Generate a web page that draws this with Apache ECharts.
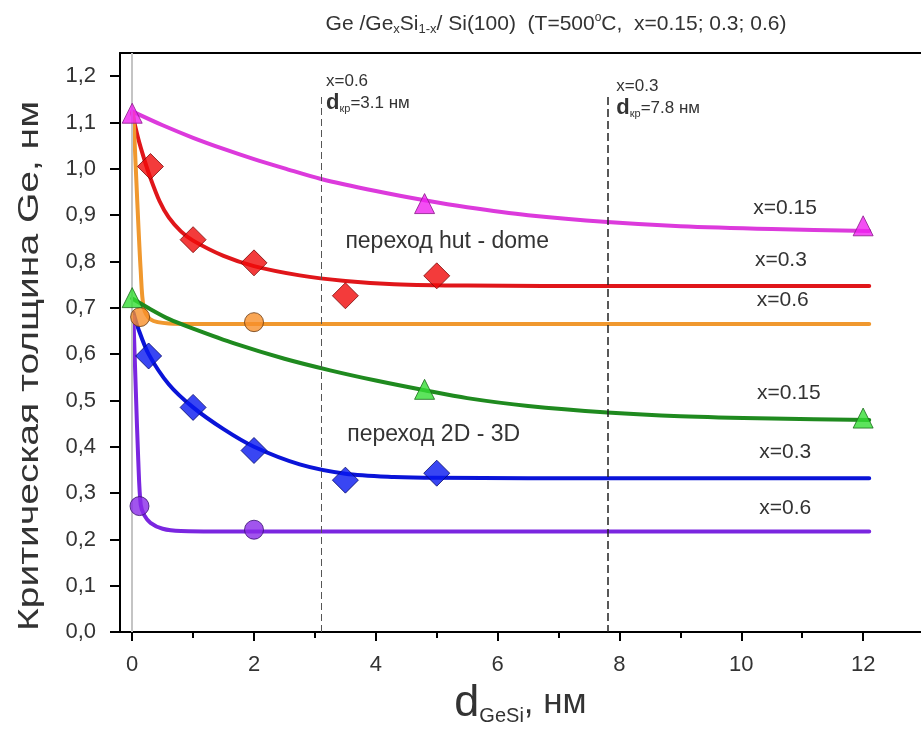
<!DOCTYPE html>
<html>
<head>
<meta charset="utf-8">
<script src="https://cdn.jsdelivr.net/npm/echarts@6/dist/echarts.min.js"></script>
<style>
html,body{margin:0;padding:0;background:#fff}
#chart{width:921px;height:731px}
</style>
</head>
<body>
<div id="chart"></div>
<script>
// Axis ticks
const xTicks = [0, 2, 4, 6, 8, 10, 12];
const xMinorTicks = [1, 3, 5, 7, 9, 11];
const yTicks = [0, 0.1, 0.2, 0.3, 0.4, 0.5, 0.6, 0.7, 0.8, 0.9, 1.0, 1.1, 1.2];

// Critical thickness of GeSi layer where islands appear (nm)
const dCrit = [3.1, 7.8];
const dCritTop = 1.155;

// hut -> dome transition: fitted curves [d_GeSi, h_Ge]
const fitHut015 = [[0,1.124],[0.5,1.094],[1,1.067],[1.5,1.043],[2,1.021],[2.5,1.001],[3.1,0.978],[4,0.952],[4.8,0.932],[5.5,0.917],[6.5,0.9],[7.8,0.885],[9,0.876],[10.5,0.87],[12.1,0.866]];
const fitHut03  = [[0,1.12],[0.1,1.065],[0.2,1.02],[0.3,0.98],[0.45,0.93],[0.6,0.895],[0.8,0.865],[1,0.845],[1.5,0.812],[2,0.79],[2.75,0.77],[3.5,0.758],[4.3,0.751],[5.5,0.748],[8,0.747],[12.1,0.747]];
const fitHut06  = [[0.02,1.12],[0.08,0.94],[0.14,0.78],[0.19,0.70],[0.3,0.675],[0.6,0.666],[1,0.665],[12.1,0.665]];
// 2D -> 3D transition: fitted curves
const fit2D015 = [[0,0.72],[0.3,0.697],[0.6,0.676],[1,0.655],[1.7,0.622],[2.5,0.59],[3.25,0.565],[4,0.543],[4.8,0.522],[5.5,0.505],[6.5,0.488],[7.8,0.474],[9,0.466],[10.5,0.461],[12.1,0.458]];
const fit2D03  = [[0.02,0.69],[0.1,0.655],[0.27,0.6],[0.6,0.535],[1,0.485],[1.5,0.438],[2,0.4],[2.75,0.362],[3.5,0.342],[4.3,0.335],[5,0.333],[8,0.332],[12.1,0.332]];
const fit2D06  = [[0.02,0.68],[0.06,0.52],[0.1,0.37],[0.14,0.275],[0.2,0.252],[0.3,0.236],[0.5,0.223],[0.8,0.218],[1.5,0.217],[12.1,0.217]];

// measured points
const ptsHut015 = [[0,1.12],[4.8,0.925],[12,0.877]];
const ptsHut03  = [[0.3,1.005],[1,0.847],[2,0.797],[3.5,0.726],[5,0.769]];
const ptsHut06  = [[0.13,0.68],[2,0.669]];
const pts2D015  = [[0,0.722],[4.8,0.524],[12,0.462]];
const pts2D03   = [[0.27,0.596],[1,0.485],[2,0.392],[3.5,0.328],[5,0.343]];
const pts2D06   = [[0.12,0.272],[2,0.221]];

// curve labels: [d, h, text]
const curveLabels = [
  [10.72, 0.915, 'x=0.15'],
  [10.65, 0.803, 'x=0.3'],
  [10.68, 0.716, 'x=0.6'],
  [10.78, 0.516, 'x=0.15'],
  [10.72, 0.388, 'x=0.3'],
  [10.72, 0.268, 'x=0.6']
];
const regionLabels = [
  [3.5, 0.843, 'переход hut - dome'],
  [3.53, 0.426, 'переход 2D - 3D']
];

const FONT = '"Liberation Sans", Arial, sans-serif';
const TXT = '#333';

const groups = [
  {fit: fitHut015, pts: ptsHut015, line: '#dc3adc', fill: '#f022f0', edge: '#8a1a8a', sym: 'triangle', size: 20},
  {fit: fitHut03,  pts: ptsHut03,  line: '#e0161a', fill: '#f00a0a', edge: '#7a0a0a', sym: 'diamond',  size: 26},
  {fit: fitHut06,  pts: ptsHut06,  line: '#f0982e', fill: '#f7902a', edge: '#6a3a10', sym: 'circle',   size: 19},
  {fit: fit2D015,  pts: pts2D015,  line: '#1f8a1f', fill: '#35dd35', edge: '#1a6a1a', sym: 'triangle', size: 20},
  {fit: fit2D03,   pts: pts2D03,   line: '#0a14d8', fill: '#0818f0', edge: '#050a6a', sym: 'diamond',  size: 26},
  {fit: fit2D06,   pts: pts2D06,   line: '#7a26e0', fill: '#8a2ae8', edge: '#3a1070', sym: 'circle',   size: 19}
];

const series = [];
groups.forEach(g => {
  series.push({
    type: 'line', data: g.fit, showSymbol: false, symbol: 'none',
    smooth: 0.3, z: 3,
    lineStyle: {color: g.line, width: 4, cap: 'round', join: 'round'}
  });
});
groups.forEach(g => {
  series.push({
    type: 'scatter', data: g.pts, symbol: g.sym, symbolSize: g.size, z: 5,
    itemStyle: {color: g.fill, borderColor: g.edge, borderWidth: 1}
  });
});

// reference lines: d = 0 and critical thicknesses
series.push({
  type: 'line', data: [], z: 1,
  markLine: {
    silent: true, symbol: 'none', label: {show: false},
    data: [
      {xAxis: 0, lineStyle: {color: '#c4c4c4', width: 2, type: 'solid'}},
      [{coord: [dCrit[0], dCritTop], lineStyle: {color: '#555', width: 1, type: [7, 4]}}, {coord: [dCrit[0], 0]}],
      [{coord: [dCrit[1], dCritTop], lineStyle: {color: '#222', width: 1.5, type: [8, 4]}}, {coord: [dCrit[1], 0]}]
    ]
  }
});

const fmtY = v => v.toFixed(1).replace('.', ',');

const chart = echarts.init(document.getElementById('chart'), null, {renderer: 'canvas'});
const option = {
  animation: false,
  backgroundColor: '#fff',
  textStyle: {fontFamily: FONT},
  title: {
    text: 'Ge /Ge{s|x}Si{s|1-x}/ Si(100)  (T=500{o|o}C,  x=0.15; 0.3; 0.6)',
    left: 551, top: 7, textAlign: 'center',
    textStyle: {
      fontFamily: FONT, fontSize: 21, fontWeight: 'normal', color: TXT,
      rich: {
        s: {fontSize: 13, verticalAlign: 'bottom', padding: [11, 0, 0, 0], color: TXT, fontFamily: FONT},
        o: {fontSize: 12, verticalAlign: 'top', padding: [0, 0, 9, 0], color: TXT, fontFamily: FONT}
      }
    }
  },
  grid: {left: 120, right: 0, top: 53, bottom: 88, containLabel: false},
  xAxis: [
    {
      type: 'value', min: -0.2, max: 12.95, position: 'bottom',
      axisLine: {show: true, onZero: false, lineStyle: {color: '#000', width: 2}},
      axisTick: {show: true, customValues: xTicks, length: 9, lineStyle: {color: '#000', width: 2}},
      axisLabel: {customValues: xTicks, margin: 22, fontSize: 22, color: TXT, fontFamily: FONT},
      splitLine: {show: false},
      name: '{d|d}{s|GeSi}{n|, нм}', nameLocation: 'middle', nameGap: 43,
      nameTextStyle: {
        rich: {
          d: {fontSize: 45, color: TXT, fontFamily: FONT},
          s: {fontSize: 20, color: TXT, fontFamily: FONT, verticalAlign: 'bottom', padding: [24, 0, 0, 0]},
          n: {fontSize: 35, color: TXT, fontFamily: FONT}
        }
      }
    },
    {
      type: 'value', min: -0.2, max: 12.95, position: 'bottom',
      axisLine: {show: false},
      axisTick: {show: true, customValues: xMinorTicks, length: 6, lineStyle: {color: '#000', width: 2}},
      axisLabel: {show: false}, splitLine: {show: false}
    },
    {
      type: 'value', min: -0.2, max: 12.95, position: 'top',
      axisLine: {show: true, onZero: false, lineStyle: {color: '#000', width: 2}},
      axisTick: {show: false}, axisLabel: {show: false}, splitLine: {show: false}
    }
  ],
  yAxis: {
    type: 'value', min: 0, max: 1.25,
    axisLine: {show: true, onZero: false, lineStyle: {color: '#000', width: 2}},
    axisTick: {show: true, customValues: yTicks, length: 10, lineStyle: {color: '#000', width: 2}},
    axisLabel: {customValues: yTicks, formatter: fmtY, margin: 24, fontSize: 22, color: TXT, fontFamily: FONT},
    splitLine: {show: false}
  },
  series: series
};
chart.setOption(option);

// text annotations placed in data coordinates
const px = (x, y) => chart.convertToPixel({xAxisIndex: 0, yAxisIndex: 0}, [x, y]);
const graphics = [];
curveLabels.forEach(([x, y, t]) => {
  const p = px(x, y);
  graphics.push({type: 'text', x: p[0], y: p[1], z: 10,
    style: {text: t, fontSize: 21, fill: TXT, fontFamily: FONT, align: 'center', verticalAlign: 'middle'}});
});
regionLabels.forEach(([x, y, t]) => {
  const p = px(x, y);
  graphics.push({type: 'text', x: p[0], y: p[1], z: 10,
    style: {text: t, fontSize: 23, fill: TXT, fontFamily: FONT, align: 'left', verticalAlign: 'middle'}});
});
[[dCrit[0], 'x=0.6', 81, 5], [dCrit[1], 'x=0.3', 86, 9]].forEach(([d, t, yTop, dx]) => {
  const p = px(d, 0);
  graphics.push({type: 'text', x: p[0] + dx, y: yTop, z: 10,
    style: {text: t, fontSize: 17, fill: TXT, fontFamily: FONT, align: 'left', verticalAlign: 'middle'}});
  graphics.push({type: 'text', x: p[0] + dx, y: yTop + 22, z: 10,
    style: {
      text: '{d|d}{s|кр}{n|=' + String(d) + ' нм}', fontFamily: FONT, fill: TXT, align: 'left', verticalAlign: 'middle',
      rich: {
        d: {fontSize: 22, fontWeight: 'bold', fill: TXT, fontFamily: FONT},
        s: {fontSize: 11, fill: TXT, fontFamily: FONT, verticalAlign: 'bottom', padding: [11, 0, 0, 0]},
        n: {fontSize: 17, fill: TXT, fontFamily: FONT}
      }
    }});
});
// y-axis title
graphics.push({type: 'text', x: 30, y: 366, rotation: Math.PI / 2, scaleX: 1.3, z: 10,
  style: {text: 'Критическая толщина Ge, нм', fontSize: 30, fill: TXT, fontFamily: FONT, align: 'center', verticalAlign: 'middle'}});
chart.setOption({graphic: graphics});
</script>
</body>
</html>
